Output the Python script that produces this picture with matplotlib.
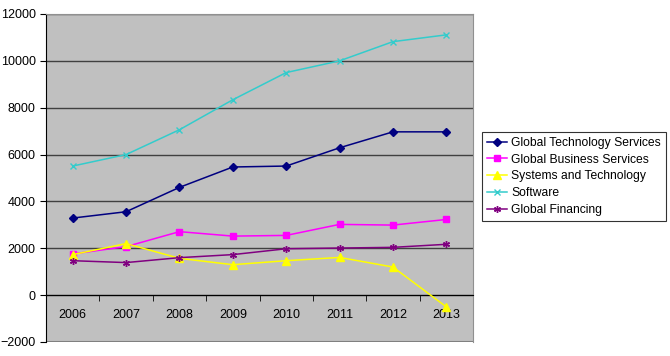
import matplotlib
matplotlib.use("Agg")
import matplotlib.pyplot as plt
import numpy as np

years = ["2006", "2007", "2008", "2009", "2010", "2011", "2012", "2013"]
gts = [3290, 3560, 4600, 5470, 5510, 6290, 6970, 6970]
gbs = [1760, 2070, 2710, 2520, 2550, 3020, 2990, 3230]
sat = [1730, 2200, 1570, 1300, 1470, 1610, 1200, -500]
software = [5510, 6000, 7060, 8340, 9500, 10000, 10820, 11110]
gf = [1470, 1390, 1600, 1730, 1980, 2010, 2040, 2170]

names = ["Global Technology Services", "Global Business Services",
         "Systems and Technology", "Software", "Global Financing"]
series = [gts, gbs, sat, software, gf]
colors = ["#000080", "#FF00FF", "#FFFF00", "#33CCCC", "#800080"]
markers = ["D", "s", "^", "x", (6, 2, 0)]
msizes = [4, 5, 6, 4, 5]

plt.rcParams['font.family'] = ['Liberation Sans', 'DejaVu Sans']

fig = plt.figure(figsize=(6.7, 3.56), dpi=100)
ax = fig.add_axes([46/670, 14/356, 427/670, 328/356])
ax.set_facecolor("#C0C0C0")

x = np.arange(len(years))
handles = []
for vals, n, c, m, ms in zip(series, names, colors, markers, msizes):
    h, = ax.plot(x, vals, color=c, marker=m, markersize=ms, lw=1.1,
                 label=n, markeredgecolor=c, markerfacecolor=c, mew=1.0, zorder=3)
    handles.append(h)

ax.set_xlim(-0.5, len(years) - 0.5)
ax.set_ylim(-2000, 12000)
ax.set_yticks(np.arange(-2000, 12001, 2000))
ax.yaxis.grid(True, color="#404040", lw=1.0)
ax.set_axisbelow(True)

for s in ["top", "right"]:
    ax.spines[s].set_color("#909090")
ax.spines["left"].set_color("#000000")
ax.spines["bottom"].set_position(("data", 0))
ax.spines["bottom"].set_color("#000000")

ax.set_xticks(x)
ax.set_xticklabels(years)
ax.set_xticks(np.arange(-0.5, len(years), 1.0), minor=True)
ax.tick_params(axis="x", which="major", length=0, pad=10, labelsize=9)
ax.tick_params(axis="x", which="minor", length=4, direction="out", color="black")
ax.tick_params(axis="y", length=4, direction="out", labelsize=9, color="black")

# outer border line at bottom of the plot area
ax.axhline(-2000, color="#909090", lw=1.5, zorder=0)

leg = fig.legend(handles=handles, loc="upper left", bbox_to_anchor=(482/670, 1 - 132/356),
                 fontsize=8.7, frameon=True, fancybox=False, edgecolor="black",
                 borderpad=0.4, labelspacing=0.4, handlelength=1.7, handletextpad=0.3,
                 borderaxespad=0)
leg.get_frame().set_linewidth(0.8)

fig.savefig("out.png", dpi=100)
